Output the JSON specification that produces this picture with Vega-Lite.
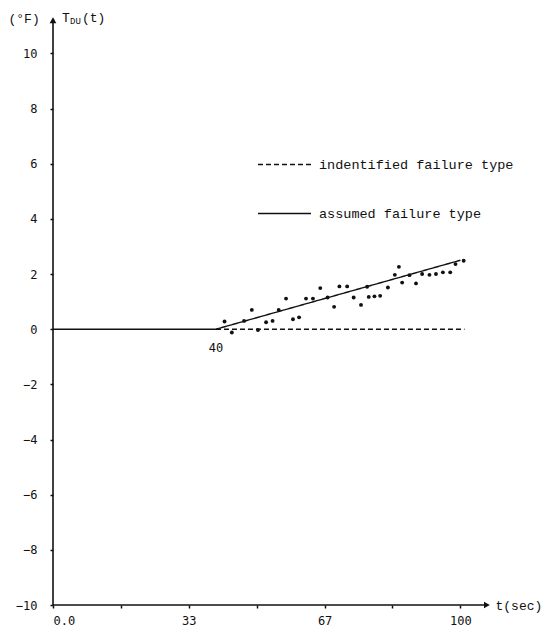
{
  "$schema": "https://vega.github.io/schema/vega-lite/v6.json",
  "autosize": "none",
  "padding": {"left": 53, "top": 12, "right": 59, "bottom": 25},
  "width": 440,
  "height": 593,
  "background": "white",
  "config": {
    "view": {"stroke": null},
    "font": "Liberation Mono",
    "axis": {"labelFont": "DejaVu Sans Mono", "labelFontSize": 12, "labelColor": "#111", "tickColor": "#111", "domain": false, "grid": false, "titleFont": "Liberation Mono", "titleFontSize": 13, "titleFontWeight": "normal", "titleColor": "#111"}
  },
  "datasets": {
    "points": [
      {"t": 42.1, "v": 0.28}, {"t": 43.9, "v": -0.12}, {"t": 46.9, "v": 0.30}, {"t": 48.8, "v": 0.70},
      {"t": 50.3, "v": -0.03}, {"t": 52.3, "v": 0.25}, {"t": 53.9, "v": 0.30}, {"t": 55.4, "v": 0.70},
      {"t": 57.2, "v": 1.11}, {"t": 58.9, "v": 0.36}, {"t": 60.4, "v": 0.43}, {"t": 62.1, "v": 1.11},
      {"t": 63.8, "v": 1.11}, {"t": 65.6, "v": 1.49}, {"t": 67.4, "v": 1.15}, {"t": 69.0, "v": 0.81},
      {"t": 70.3, "v": 1.55}, {"t": 72.2, "v": 1.55}, {"t": 73.8, "v": 1.15}, {"t": 75.6, "v": 0.88},
      {"t": 77.1, "v": 1.54}, {"t": 77.5, "v": 1.17}, {"t": 78.9, "v": 1.19}, {"t": 80.3, "v": 1.21},
      {"t": 82.2, "v": 1.51}, {"t": 83.9, "v": 1.97}, {"t": 84.9, "v": 2.26}, {"t": 85.7, "v": 1.69},
      {"t": 87.5, "v": 1.96}, {"t": 89.1, "v": 1.66}, {"t": 90.6, "v": 2.00}, {"t": 92.4, "v": 1.97},
      {"t": 94.0, "v": 2.00}, {"t": 95.7, "v": 2.06}, {"t": 97.5, "v": 2.06}, {"t": 98.8, "v": 2.36},
      {"t": 100.8, "v": 2.48}
    ],
    "lines": [
      {"t": 40, "v": 0, "series": "indentified failure type"},
      {"t": 101, "v": 0, "series": "indentified failure type"},
      {"t": 0, "v": 0, "series": "assumed failure type"},
      {"t": 40, "v": 0, "series": "assumed failure type"},
      {"t": 100, "v": 2.5, "series": "assumed failure type"}
    ]
  },
  "layer": [
    {
      "data": {"name": "lines"},
      "mark": {"type": "line", "color": "#111", "strokeWidth": 1.4},
      "encoding": {
        "x": {"field": "t", "type": "quantitative", "scale": {"domain": [0, 108], "nice": false, "zero": false},
          "axis": {"values": [0, 16.67, 33.33, 50, 66.67, 83.33, 100], "tickSize": 3, "tickWidth": 1.5, "labelPadding": 7,
            "labelExpr": "datum.value == 0 ? '0.0' : (datum.value == 33.33 ? '33' : (datum.value == 66.67 ? '67' : (datum.value == 100 ? '100' : '')))",
            "title": "t(sec)", "titleX": 442, "titleY": 0, "titleAlign": "left", "titleBaseline": "middle", "titleAnchor": null}},
        "y": {"field": "v", "type": "quantitative", "scale": {"domain": [-10, 11.5], "nice": false, "zero": false},
          "axis": {"values": [-10, -8, -6, -4, -2, 0, 2, 4, 6, 8, 10], "tickSize": 3, "tickWidth": 1.5, "labelPadding": 13,
            "title": "(°F)", "titleAngle": 0, "titleX": -45, "titleY": 6, "titleAlign": "left", "titleBaseline": "middle"}},
        "detail": {"field": "series"},
        "strokeDash": {"field": "series", "type": "nominal",
          "scale": {"domain": ["indentified failure type", "assumed failure type"], "range": [[5, 3], [1, 0]]},
          "legend": {"orient": "none", "legendX": 204, "legendY": 125, "title": null, "symbolType": "stroke", "symbolSize": 2809,
            "symbolStrokeColor": "#111", "symbolStrokeWidth": 1.3, "labelFont": "Liberation Mono", "labelFontSize": 13.5,
            "labelColor": "#111", "labelOffset": 7, "labelLimit": 0, "rowPadding": 15, "direction": "vertical"}}
      }
    },
    {
      "data": {"name": "points"},
      "mark": {"type": "circle", "color": "#111", "size": 15, "opacity": 1},
      "encoding": {
        "x": {"field": "t", "type": "quantitative"},
        "y": {"field": "v", "type": "quantitative"}
      }
    },
    {
      "data": {"values": [{}]},
      "mark": {"type": "rule", "color": "#111", "strokeWidth": 1.6},
      "encoding": {"x": {"datum": 0}, "x2": {"datum": 106}, "y": {"datum": -10}}
    },
    {
      "data": {"values": [{}]},
      "mark": {"type": "rule", "color": "#111", "strokeWidth": 1.6},
      "encoding": {"x": {"datum": 0}, "y": {"datum": -10}, "y2": {"datum": 11.1}}
    },
    {
      "data": {"values": [{}]},
      "mark": {"type": "point", "shape": "triangle-right", "filled": true, "color": "#111", "size": 45, "opacity": 1},
      "encoding": {"x": {"datum": 106.5}, "y": {"datum": -10}}
    },
    {
      "data": {"values": [{}]},
      "mark": {"type": "point", "shape": "triangle-up", "filled": true, "color": "#111", "size": 45, "opacity": 1},
      "encoding": {"x": {"datum": 0}, "y": {"datum": 11.2}}
    },
    {
      "data": {"values": [{}]},
      "mark": {"type": "text", "font": "DejaVu Sans Mono", "fontSize": 12, "color": "#111", "dy": 19, "align": "center"},
      "encoding": {"x": {"datum": 40}, "y": {"datum": 0}, "text": {"value": "40"}}
    },
    {
      "data": {"values": [{}]},
      "mark": {"type": "text", "font": "Liberation Mono", "fontSize": 13, "color": "#111", "dx": 9, "align": "left", "baseline": "middle"},
      "encoding": {"x": {"datum": 0}, "y": {"datum": 11.3}, "text": {"value": "T"}}
    },
    {
      "data": {"values": [{}]},
      "mark": {"type": "text", "font": "Liberation Mono", "fontSize": 9, "color": "#111", "dx": 17, "dy": 3, "align": "left", "baseline": "middle"},
      "encoding": {"x": {"datum": 0}, "y": {"datum": 11.3}, "text": {"value": "DU"}}
    },
    {
      "data": {"values": [{}]},
      "mark": {"type": "text", "font": "Liberation Mono", "fontSize": 13, "color": "#111", "dx": 29, "align": "left", "baseline": "middle"},
      "encoding": {"x": {"datum": 0}, "y": {"datum": 11.3}, "text": {"value": "(t)"}}
    }
  ]
}
